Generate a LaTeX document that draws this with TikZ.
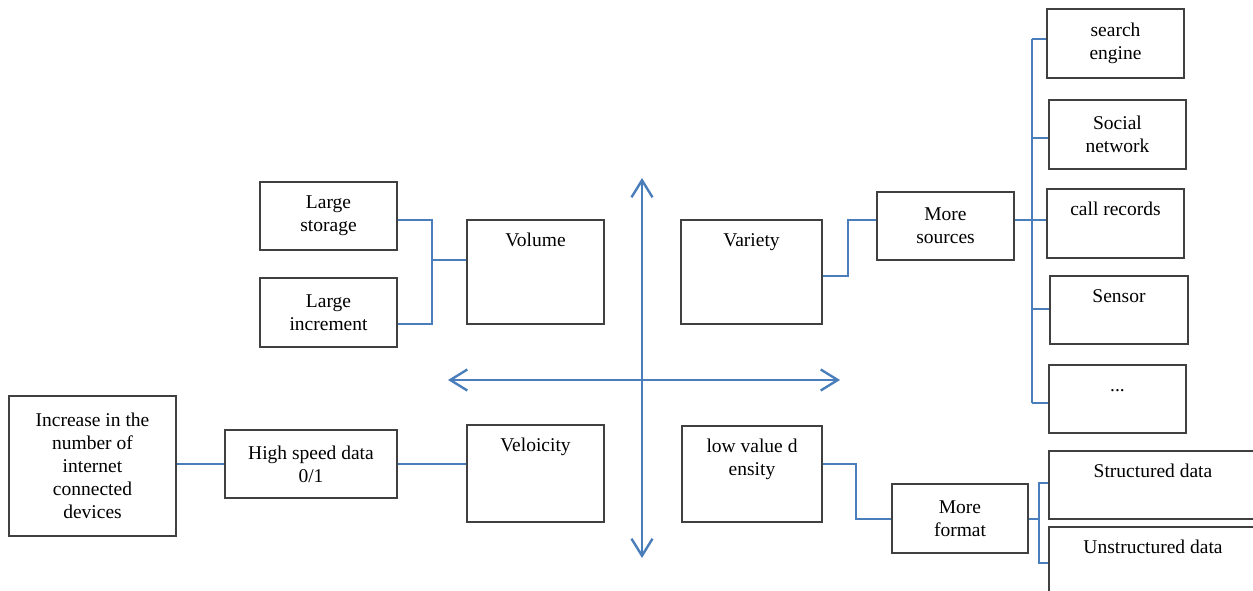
\documentclass[tikz,border=0pt]{standalone}
\usepackage{fontspec}
\setmainfont{Liberation Serif}
\usetikzlibrary{arrows.meta,calc}
\definecolor{linkblue}{HTML}{4A7EBB}
\definecolor{boxgray}{HTML}{404040}
\tikzset{
  box/.style={draw=boxgray, line width=1.4pt, rectangle, inner sep=0pt,
    align=center, font=\fontsize{19.5}{23}\selectfont},
  toplbl/.style={anchor=north, inner sep=0pt, yshift=-10.5pt, align=center,
    font=\fontsize{19.5}{23}\selectfont},
  link/.style={draw=linkblue, line width=2pt},
  axis/.style={draw=linkblue, line width=2.4pt,
    {Straight Barb[length=17pt,width=21pt]}-{Straight Barb[length=17pt,width=21pt]}},
}
\begin{document}
\begin{tikzpicture}[x=1pt,y=-1pt]
\useasboundingbox (0,0) rectangle (1253,591);
\fill[white] (0,0) rectangle (1253,591);
\begin{scope}
\clip (0,0) rectangle (1253,591);

% quadrant axes
\coordinate (vt) at (642,178);
\coordinate (vb) at (642,558);
\coordinate (hl) at (448,380);
\coordinate (hr) at (840,380);
\draw[axis] (vt) -- (vb);
\draw[axis] (hl) -- (hr);

% Volume quadrant
\node[box, minimum width=137pt, minimum height=68pt] (ls) at (328.5,216) {Large\\storage};
\node[box, minimum width=137pt, minimum height=69pt] (li) at (328.5,312.5) {Large\\increment};
\node[box, minimum width=137pt, minimum height=104pt,
  label={[toplbl]north:{\strut Volume}}] (vol) at (535.5,272) {};

% Velocity quadrant
\node[box, minimum width=167pt, minimum height=140pt] (inc) at (92.5,466)
  {Increase in the\\number of\\internet\\connected\\devices};
\node[box, minimum width=172pt, minimum height=68pt] (hs) at (311,464) {High speed data\\0/1};
\node[box, minimum width=137pt, minimum height=97pt,
  label={[toplbl]north:{\strut Veloicity}}] (vel) at (535.5,473.5) {};

% Variety quadrant
\node[box, minimum width=141pt, minimum height=104pt,
  label={[toplbl]north:{\strut Variety}}] (var) at (751.5,272) {};
\node[box, minimum width=137pt, minimum height=68pt] (ms) at (945.5,226) {More\\sources};
\node[box, minimum width=137pt, minimum height=69pt] (se) at (1115.5,43.5) {search\\engine};
\node[box, minimum width=137pt, minimum height=69pt] (sn) at (1117.5,134.5) {Social\\network};
\node[box, minimum width=137pt, minimum height=69pt,
  label={[toplbl]north:{\strut call records}}] (cr) at (1115.5,223.5) {};
\node[box, minimum width=138pt, minimum height=68pt,
  label={[toplbl]north:{\strut Sensor}}] (sen) at (1119,310) {};
\node[box, minimum width=137pt, minimum height=68pt,
  label={[toplbl]north:{\strut ...}}] (dots) at (1117.5,399) {};

% Value quadrant
\node[box, minimum width=140pt, minimum height=96pt,
  label={[toplbl]north:{\strut low value d\\ensity}}] (lvd) at (752,474) {};
\node[box, minimum width=136pt, minimum height=69pt] (mf) at (960,518.5) {More\\format};
\node[box, minimum width=208pt, minimum height=68pt,
  label={[toplbl]north:{\strut Structured data}}] (sd) at (1153,485) {};
\node[box, minimum width=208pt, minimum height=68pt,
  label={[toplbl]north:{\strut Unstructured data}}] (ud) at (1153,561) {};

% connectors: volume
\coordinate (jv) at (432,260);
\draw[link] ($(ls.east)+(0,4)$) -| (jv) |- ($(li.east)+(0,11.5)$);
\draw[link] (jv) -- (jv -| vol.west);

% connectors: velocity
\draw[link] (hs.west) -- (hs.west -| inc.east);
\draw[link] (hs.east) -- (hs.east -| vel.west);

% connectors: variety
\draw[link] ($(var.east)+(0,4)$) -| ($(ms.west)+(-28,-6)$) -- ($(ms.west)+(0,-6)$);
\coordinate (b1) at (1032,39);
\coordinate (b2) at (1032,138);
\coordinate (b3) at (1032,220);
\coordinate (b4) at (1032,309);
\coordinate (b5) at (1032,403);
\draw[link] (b1) -- (b5);
\draw[link] (b1) -- (b1 -| se.west);
\draw[link] (b2) -- (b2 -| sn.west);
\draw[link] ($(ms.east)+(0,-6)$) -- (b3 -| cr.west);
\draw[link] (b4) -- (b4 -| sen.west);
\draw[link] (b5) -- (b5 -| dots.west);

% connectors: value
\draw[link] ($(lvd.east)+(0,-10)$) -| ($(mf.west)+(-35,0)$) -- (mf.west);
\coordinate (f1) at (1039,483);
\coordinate (f2) at (1039,563);
\draw[link] (mf.east) -- (mf.east -| f1);
\draw[link] (f1 -| sd.west) -- (f1) -- (f2) -- (f2 -| ud.west);
\end{scope}
\end{tikzpicture}
\end{document}
